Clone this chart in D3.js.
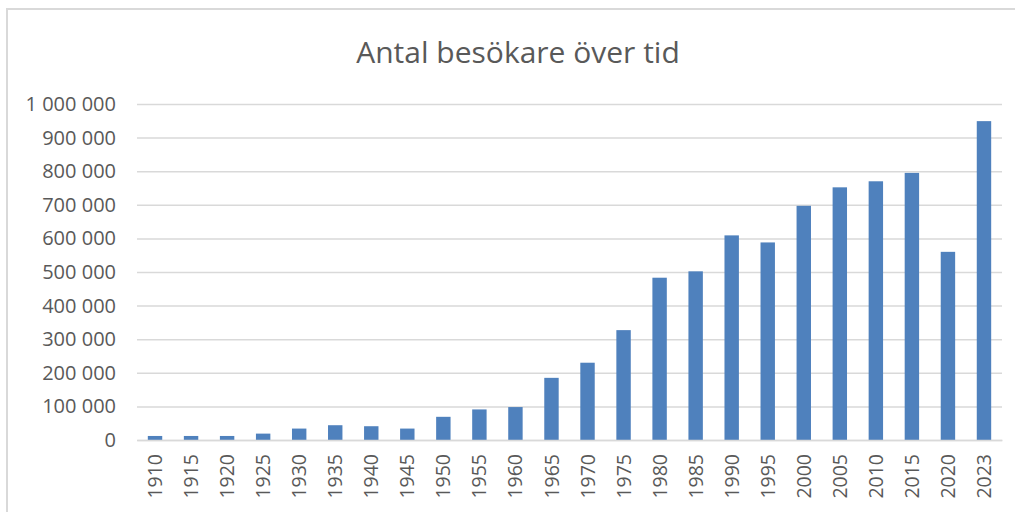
<!DOCTYPE html>
<html>
<head>
<meta charset="utf-8">
<script src="https://cdn.jsdelivr.net/npm/d3@7"></script>
<style>
  body { margin: 0; background: #fff; }
  svg { display: block; }
</style>
</head>
<body>
<svg id="chart" width="1015" height="512"></svg>
<script>
// data
const years = ["1910", "1915", "1920", "1925", "1930", "1935", "1940", "1945",
  "1950", "1955", "1960", "1965", "1970", "1975", "1980", "1985",
  "1990", "1995", "2000", "2005", "2010", "2015", "2020", "2023"];
const visitors = [12000, 12000, 12000, 19000, 34000, 44000, 41000, 34000,
  69000, 91000, 98000, 185000, 230000, 327000, 483000, 502000,
  609000, 588000, 697000, 752000, 770000, 795000, 560000, 949000];
const yTicks = [0, 100000, 200000, 300000, 400000, 500000, 600000, 700000, 800000, 900000, 1000000];
const title = "Antal besökare över tid";

const font = "'Open Sans', 'DejaVu Sans', sans-serif";
const textColor = "#595959";
const gridColor = "#d9d9d9";
const barColor = "#4f81bd";

let plotLeft = 137, plotRight = 1002, plotTop = 104, plotBottom = 440;

var svg = d3.select("#chart");

// chart area border (only top and left edges are visible)
svg.append("rect")
  .attr("x", 7).attr("y", 9)
  .attr("width", 1200).attr("height", 700)
  .attr("fill", "#fff")
  .attr("stroke", gridColor)
  .attr("stroke-width", 2);

var x = d3.scaleBand()
  .domain(years)
  .range([plotLeft, plotRight])
  .paddingInner(0.6)
  .paddingOuter(0.3);

var y = d3.scaleLinear()
  .domain([0, 1000000])
  .range([plotBottom, plotTop]);

const fmt = function (d) {
  return d3.format(",")(d).replace(/,/g, " ");
};

// y axis: gridlines + labels
var yAxis = svg.append("g")
  .attr("transform", `translate(${plotLeft},0)`)
  .call(d3.axisLeft(y).tickValues(yTicks).tickFormat(fmt).tickSize(-(plotRight - plotLeft)).tickPadding(21));

yAxis.select(".domain").remove();
yAxis.selectAll(".tick line")
  .attr("stroke", gridColor)
  .attr("stroke-width", 1.5);
yAxis.selectAll(".tick text")
  .attr("fill", textColor)
  .style("font-family", font)
  .style("font-size", "20px");

// bars
svg.selectAll(".bar")
  .data(visitors)
  .enter()
  .append("rect")
  .attr("class", "bar")
  .attr("x", function (d, i) { return x(years[i]); })
  .attr("y", function (d) { return y(d); })
  .attr("width", x.bandwidth())
  .attr("height", function (d) { return y(0) - y(d); })
  .attr("fill", barColor);

// x axis
var xAxis = svg.append("g")
  .attr("transform", `translate(0,${plotBottom})`)
  .call(d3.axisBottom(x).tickSize(0).tickPadding(0));

xAxis.select(".domain")
  .attr("stroke", gridColor)
  .attr("stroke-width", 1.5);
xAxis.selectAll(".tick text")
  .attr("fill", textColor)
  .style("font-family", font)
  .style("font-size", "19.5px")
  .attr("text-anchor", "end")
  .attr("transform", "rotate(-90)")
  .attr("x", -14)
  .attr("y", 0)
  .attr("dy", "0.36em");

// title
svg.append("text")
  .attr("x", 518)
  .attr("y", 63)
  .attr("text-anchor", "middle")
  .attr("fill", textColor)
  .style("font-family", font)
  .style("font-size", "30px")
  .text(title);
</script>
</body>
</html>
